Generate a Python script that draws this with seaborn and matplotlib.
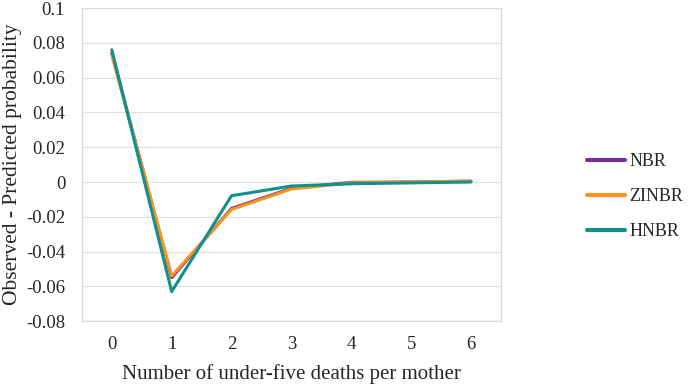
import seaborn as sns
import matplotlib.pyplot as plt
import pandas as pd

deaths = [0, 1, 2, 3, 4, 5, 6]
nbr = [0.074, -0.055, -0.0152, -0.0036, -0.0002, 0.0, 0.0005]
zinbr = [0.073, -0.054, -0.0158, -0.0040, -0.0005, 0.0, 0.0005]
hnbr = [0.076, -0.063, -0.0079, -0.0023, -0.0010, -0.0005, 0.0]
models = ['NBR', 'ZINBR', 'HNBR']
colors = ['#7030A0', '#F7941D', '#11908C']

df = pd.DataFrame({
    'deaths': deaths * 3,
    'diff': nbr + zinbr + hnbr,
    'model': [m for m in models for _ in deaths],
})

sns.set_style('white')
plt.rcParams['font.family'] = ['Liberation Serif', 'DejaVu Serif']

fig = plt.figure(figsize=(6.88, 3.86), dpi=100)
ax = fig.add_axes([0.119, 0.168, 0.609, 0.811])

sns.lineplot(data=df, x='deaths', y='diff', hue='model', palette=colors,
             hue_order=models, linewidth=2.2, ax=ax, legend=True)

ax.set_xlim(-0.5, 6.5)
ax.set_ylim(-0.08, 0.1)
ax.set_xticks(deaths)
ax.set_yticks([-0.08, -0.06, -0.04, -0.02, 0, 0.02, 0.04, 0.06, 0.08, 0.1])
ax.set_yticklabels(['-0.08', '-0.06', '-0.04', '-0.02', '0', '0.02', '0.04', '0.06', '0.08', '0.1'])
ax.tick_params(axis='y', labelsize=13.5, length=0, pad=12)
ax.tick_params(axis='x', labelsize=13.5, length=0, pad=11)
ax.grid(axis='y', color='#E0E0E0', linewidth=0.9)
ax.set_axisbelow(True)
for s in ax.spines.values():
    s.set_color('#D9D9D9')
    s.set_linewidth(0.9)

ax.set_xlabel('Number of under-five deaths per mother', fontsize=15, labelpad=8)
ax.set_ylabel('Observed - Predicted probability', fontsize=15.5, labelpad=3)

leg = ax.legend(loc='center left', bbox_to_anchor=(0.853, 0.49), bbox_transform=fig.transFigure,
                frameon=False, fontsize=13, handlelength=2.1, handletextpad=0.25,
                labelspacing=1.0, borderpad=0, borderaxespad=0, title=None)
for line in leg.get_lines():
    line.set_linewidth(3)

fig.savefig('out.png', dpi=100)
